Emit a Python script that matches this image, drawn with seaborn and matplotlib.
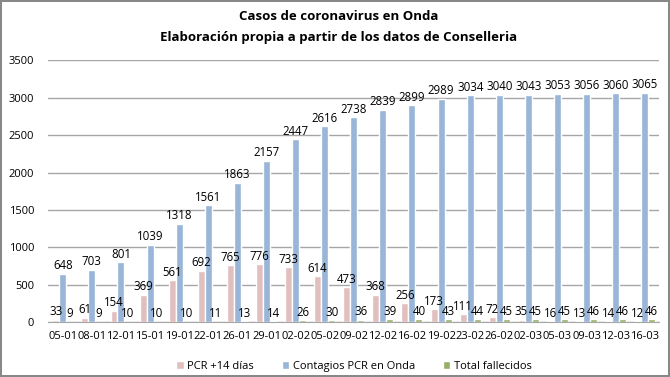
import matplotlib
matplotlib.use("Agg")
import matplotlib.pyplot as plt
import pandas as pd
import seaborn as sns

dates = ['05-01', '08-01', '12-01', '15-01', '19-01', '22-01', '26-01', '29-01', '02-02', '05-02', '09-02',
         '12-02', '16-02', '19-02', '23-02', '26-02', '02-03', '05-03', '09-03', '12-03', '16-03']
pcr_14 = [33, 61, 154, 369, 561, 692, 765, 776, 733, 614, 473, 368, 256, 173, 111, 72, 35, 16, 13, 14, 12]
contagios = [648, 703, 801, 1039, 1318, 1561, 1863, 2157, 2447, 2616, 2738, 2839, 2899, 2989, 3034, 3040,
             3043, 3053, 3056, 3060, 3065]
fallecidos = [9, 9, 10, 10, 10, 11, 13, 14, 26, 30, 36, 39, 40, 43, 44, 45, 45, 45, 46, 46, 46]
series = ['PCR +14 días', 'Contagios PCR en Onda', 'Total fallecidos']
colors = ['#E6B9B8', '#8EB4E3', '#9BBB59']

df = pd.DataFrame({'fecha': dates, series[0]: pcr_14, series[1]: contagios, series[2]: fallecidos})
df = df.melt(id_vars='fecha', var_name='serie', value_name='valor')

sns.set_style("white")
plt.rcParams['font.family'] = ['Open Sans', 'DejaVu Sans']
plt.rcParams['text.color'] = 'black'

fig = plt.figure(figsize=(6.7, 3.77), dpi=100)
fig.patch.set_edgecolor('#888888')
fig.patch.set_linewidth(1.5)
ax = fig.add_axes([0.072, 0.145, 0.912, 0.695])

g = sns.barplot(data=df, x='fecha', y='valor', hue='serie', hue_order=series, palette=colors,
                width=0.72, ax=ax, legend=True)

for cont in ax.containers:
    ax.bar_label(cont, fontsize=8.3, padding=1, color='black')

ax.set_ylim(0, 3500)
ax.set_yticks(range(0, 3501, 500))
ax.yaxis.grid(True, color='#A6A6A6', linewidth=1)
ax.set_axisbelow(True)
ax.set_xlabel('')
ax.set_ylabel('')
ax.tick_params(axis='both', labelsize=8, length=0, labelcolor='black')
ax.tick_params(axis='y', pad=10)
ax.tick_params(axis='x', pad=6)
for s in ['top', 'right', 'left']:
    ax.spines[s].set_visible(False)
ax.spines['bottom'].set_color('#A6A6A6')
ax.set_xlim(-0.5, len(dates) - 0.5)

ax.legend(loc='upper center', bbox_to_anchor=(0.5, -0.11), ncol=3, frameon=False, fontsize=8,
          handlelength=0.7, handleheight=0.7, handletextpad=0.3, columnspacing=2.5)

fig.text(0.505, 0.955, 'Casos de coronavirus en Onda', ha='center', va='center',
         fontsize=9.5, fontweight='bold')
fig.text(0.505, 0.9, 'Elaboración propia a partir de los datos de Conselleria', ha='center', va='center',
         fontsize=9.5, fontweight='bold')

fig.savefig('out.png', dpi=100)
